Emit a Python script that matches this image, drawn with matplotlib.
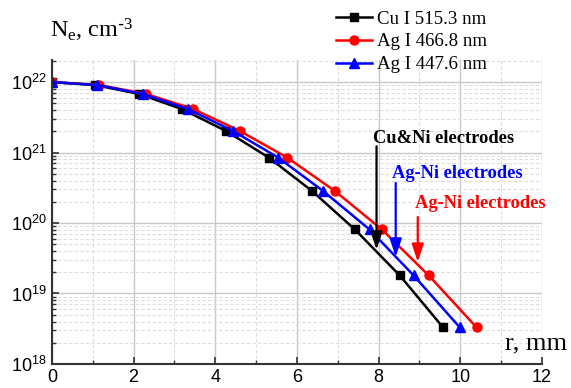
import math
import matplotlib as mpl
mpl.use('Agg')
import matplotlib.pyplot as plt
from matplotlib.ticker import LogLocator, MultipleLocator, FuncFormatter

plt.rcParams['mathtext.default'] = 'regular'

# electron density profile, same Ne values for each line, different r
ne = [1.0e22, 9.1e21, 6.8e21, 4.15e21, 2.03e21, 8.5e20, 2.85e20, 8.1e19, 1.8e19, 3.3e18]
r_cu = [0, 1.05, 2.13, 3.18, 4.26, 5.31, 6.37, 7.42, 8.52, 9.58]
r_ag1 = [0, 1.15, 2.30, 3.46, 4.60, 5.76, 6.93, 8.08, 9.23, 10.40]
r_ag2 = [0, 1.10, 2.22, 3.33, 4.43, 5.54, 6.64, 7.78, 8.86, 9.99]

labels = ['Cu I 515.3 nm', 'Ag I 466.8 nm', 'Ag I 447.6 nm']

serif = 'Liberation Serif'
sans = 'Liberation Sans'

fig = plt.figure(figsize=(5.71, 3.88), dpi=100)
ax = fig.add_axes([0.091, 0.062, 0.858, 0.783])

ax.plot(r_cu, ne, color='black', lw=1.8, marker='s', ms=6, label=labels[0])
ax.plot(r_ag1, ne, color='red', lw=1.8, marker='o', ms=6.5, label=labels[1])
ax.plot(r_ag2, ne, color='blue', lw=1.8, marker='^', ms=7, label=labels[2])

ax.set_yscale('log')
ax.set_xlim(0, 12)
ax.set_ylim(1e18, 2.05e22)
ax.xaxis.set_major_locator(MultipleLocator(2))
ax.xaxis.set_minor_locator(MultipleLocator(1))
ax.yaxis.set_major_locator(LogLocator(base=10, numticks=10))
ax.yaxis.set_minor_locator(LogLocator(base=10, subs=range(2, 10), numticks=50))
ax.yaxis.set_major_formatter(FuncFormatter(lambda v, p: r'$10^{%d}$' % round(math.log10(v))))

ax.grid(True, which='major', color='#c8c8c8', lw=1.0, ls='-')
ax.grid(True, which='minor', color='#dcdcdc', lw=0.8, ls=(0, (3, 2)))
ax.set_axisbelow(True)

for s in ['top', 'right']:
    ax.spines[s].set_visible(False)
for s in ['left', 'bottom']:
    ax.spines[s].set_color('#333333')
    ax.spines[s].set_linewidth(1.5)

ax.tick_params(which='major', direction='in', length=5, width=1.2, color='#333333',
               labelsize=13, pad=4)
ax.tick_params(which='minor', direction='in', length=3, width=1.0, color='#333333')
for t in ax.get_xticklabels() + ax.get_yticklabels():
    t.set_family(sans)

# annotations: text, colour, text x/y, arrow x, arrow start y, arrow end y
notes = [
    ('Cu&Ni electrodes', 'black', 7.86, 10**21.206, 7.95, 10**21.09, 10**19.62),
    ('Ag-Ni electrodes', 'blue', 8.33, 10**20.709, 8.42, 10**20.57, 10**19.52),
    ('Ag-Ni electrodes', 'red', 8.89, 10**20.284, 8.96, 10**20.085, 10**19.447),
]
for txt, c, tx, ty, axx, y0, y1 in notes:
    ax.text(tx, ty, txt, color=c, family=serif, fontweight='bold', fontsize=13.3,
            va='center', ha='left')
    ax.annotate('', xy=(axx, y1), xytext=(axx, y0),
                arrowprops=dict(arrowstyle='-|>,head_length=0.9,head_width=0.3',
                                color=c, lw=1.6, mutation_scale=12,
                                shrinkA=0, shrinkB=0))

ax.legend(loc='upper left', bbox_to_anchor=(0.5705, 1.0),
          bbox_transform=fig.transFigure, frameon=False,
          prop={'family': serif, 'size': 13.6}, handlelength=1.9,
          handletextpad=0.25, labelspacing=0.3, borderaxespad=0.15)

fig.text(50 / 571, 1 - 38 / 388, 'N$_e$, cm$^{\\text{-}3}$', family=serif, fontsize=17.5,
         ha='left', va='baseline')
fig.text(505 / 571, 1 - 343 / 388, 'r, mm', family=serif, fontsize=19,
         ha='left', va='center')

fig.savefig('out.png', dpi=100)
